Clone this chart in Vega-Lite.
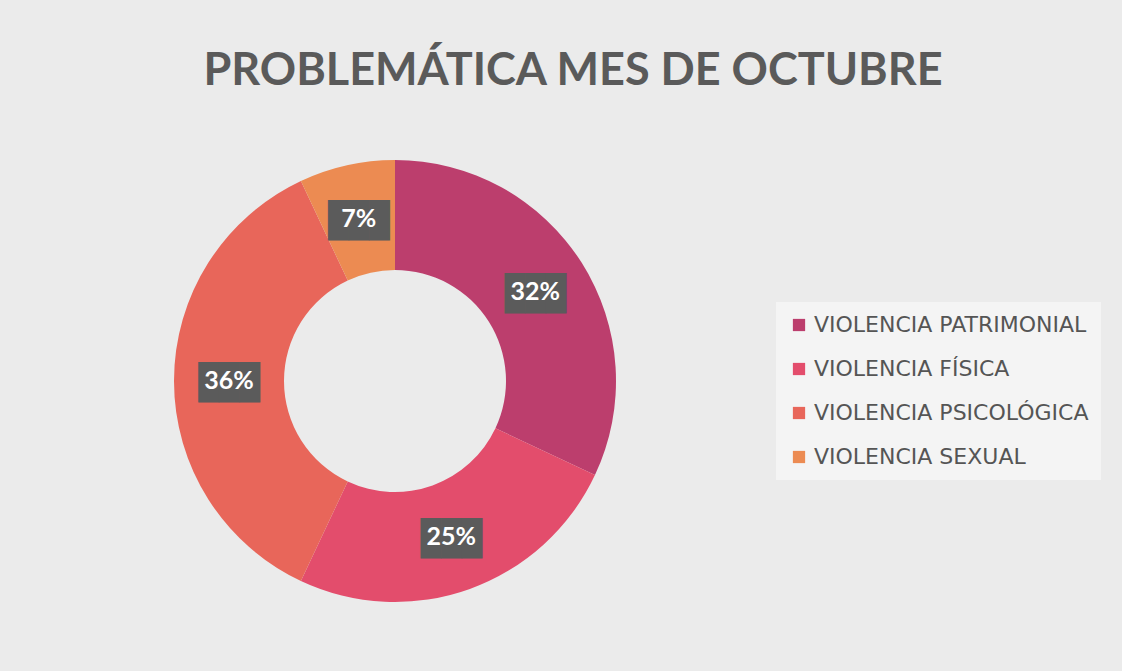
{
  "$schema": "https://vega.github.io/schema/vega-lite/v6.json",
  "width": 790,
  "height": 562,
  "autosize": "none",
  "padding": {"left": 0, "top": 100, "right": 332, "bottom": 9},
  "background": "#ebebeb",
  "title": {
    "text": "PROBLEMÁTICA MES DE OCTUBRE",
    "font": "Lato",
    "fontSize": 45,
    "fontWeight": "bold",
    "color": "#5a5a5a",
    "anchor": "middle",
    "frame": "group",
    "dx": 178,
    "offset": 6
  },
  "data": {
    "values": [
      {"categoria": "VIOLENCIA PATRIMONIAL", "valor": 32, "orden": 1, "etiqueta": "32%"},
      {"categoria": "VIOLENCIA FÍSICA", "valor": 25, "orden": 2, "etiqueta": "25%"},
      {"categoria": "VIOLENCIA PSICOLÓGICA", "valor": 36, "orden": 3, "etiqueta": "36%"},
      {"categoria": "VIOLENCIA SEXUAL", "valor": 7, "orden": 4, "etiqueta": "7%"}
    ]
  },
  "encoding": {
    "theta": {"field": "valor", "type": "quantitative", "stack": true},
    "order": {"field": "orden", "type": "quantitative"}
  },
  "layer": [
    {
      "mark": {"type": "arc", "innerRadius": 111, "outerRadius": 221},
      "encoding": {
        "color": {
          "field": "categoria",
          "type": "nominal",
          "sort": ["VIOLENCIA PATRIMONIAL", "VIOLENCIA FÍSICA", "VIOLENCIA PSICOLÓGICA", "VIOLENCIA SEXUAL"],
          "scale": {
            "domain": ["VIOLENCIA PATRIMONIAL", "VIOLENCIA FÍSICA", "VIOLENCIA PSICOLÓGICA", "VIOLENCIA SEXUAL"],
            "range": ["#bc3e6d", "#e34d6c", "#e8665a", "#ec8b52"]
          },
          "legend": {
            "title": null,
            "orient": "none",
            "legendX": 776,
            "legendY": 202,
            "fillColor": "#f4f4f4",
            "padding": 12,
            "symbolType": "square",
            "symbolSize": 150,
            "symbolStrokeWidth": 0,
            "labelFont": "DejaVu Sans",
            "labelFontSize": 22,
            "labelColor": "#555555",
            "labelLimit": 400,
            "labelOffset": 4,
            "rowPadding": 22
          }
        }
      }
    },
    {
      "mark": {"type": "text", "radius": 166, "font": "DejaVu Sans Mono", "fontSize": 34, "color": "#5b5b5b", "baseline": "middle", "dy": 3},
      "encoding": {"text": {"value": "███"}}
    },
    {
      "mark": {"type": "text", "radius": 166, "font": "Lato", "fontSize": 25, "fontWeight": "bold", "color": "#ffffff", "baseline": "middle"},
      "encoding": {"text": {"field": "etiqueta", "type": "nominal"}}
    }
  ]
}
